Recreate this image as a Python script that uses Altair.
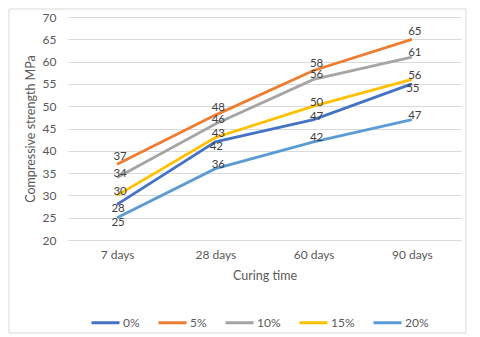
import altair as alt
import pandas as pd

categories = ["7 days", "28 days", "60 days", "90 days"]
series = ["0%", "5%", "10%", "15%", "20%"]
values = {
    "0%": [28, 42, 47, 55],
    "5%": [37, 48, 58, 65],
    "10%": [34, 46, 56, 61],
    "15%": [30, 43, 50, 56],
    "20%": [25, 36, 42, 47],
}
colors = ["#4472C4", "#ED7D31", "#A5A5A5", "#FFC000", "#5B9BD5"]
# data labels that sit below their point in the reference
labels_below = [("0%", "7 days"), ("0%", "28 days"), ("0%", "90 days"), ("20%", "7 days")]

rows = []
for si, s in enumerate(series):
    for c, v in zip(categories, values[s]):
        rows.append({"time": c, "mix": s, "strength": v, "order": si,
                     "below": (s, c) in labels_below})
df = pd.DataFrame(rows)

FONT = "Lato"
GRAY = "#595959"
label_dy = {"0%": -3, "5%": -7, "10%": -4, "15%": -3, "20%": -4}

x = alt.X("time:N", sort=categories, title="Curing time",
          scale=alt.Scale(type="point", padding=0.5),
          axis=alt.Axis(labelAngle=0, labelPadding=9, titlePadding=9, ticks=False,
                        domain=False, grid=False, labelFontSize=12, titleFontSize=12.5,
                        labelColor=GRAY, titleColor=GRAY, titleFontWeight="normal"))
y = alt.Y("strength:Q", title="Compressive strength MPa",
          scale=alt.Scale(domain=[20, 70], nice=False, zero=False),
          axis=alt.Axis(values=list(range(20, 71, 5)), ticks=False, domain=False,
                        labelPadding=12, titlePadding=5, labelFontSize=12, titleFontSize=12.5,
                        labelColor=GRAY, titleColor=GRAY, titleFontWeight="normal",
                        gridColor="#d9d9d9", gridWidth=1))
color = alt.Color("mix:N", sort=series, scale=alt.Scale(domain=series, range=colors),
                  legend=alt.Legend(title=None, orient="none", legendX=22, legendY=290,
                                    direction="horizontal", symbolType="stroke",
                                    symbolSize=784, symbolStrokeWidth=3, labelOffset=2,
                                    columnPadding=12, labelFontSize=12, labelColor=GRAY,
                                    labelFont=FONT))

lines = alt.Chart(df).mark_line(strokeWidth=2.8).encode(x=x, y=y, color=color,
                                                          detail="order:O")
layers = [lines]
for s in series:
    layers.append(alt.Chart(df).transform_filter(
        f"datum.mix == '{s}' && !datum.below").mark_text(
        fontSize=11.5, color="#404040", dx=3, dy=label_dy[s], font=FONT
    ).encode(x=x, y=y, text="strength:Q"))
layers.append(alt.Chart(df).transform_filter("datum.below").mark_text(
    fontSize=11.5, color="#404040", dx=1, dy=5, font=FONT
).encode(x=x, y=y, text="strength:Q"))
frame = alt.Chart(alt.Data(values=[{"a": 1}])).mark_rect(
    fillOpacity=0, stroke="#d9d9d9", strokeWidth=1
).encode(x=alt.value(-59), x2=alt.value(398), y=alt.value(-8), y2=alt.value(316))
layers.append(frame)

chart = alt.layer(*layers).properties(
    width=393, height=223,
    autosize=alt.AutoSizeParams(type="none"),
    padding={"left": 60, "top": 9, "right": 10, "bottom": 95},
).configure(font=FONT).configure_view(stroke=None)

chart.save("out.html", embed_options={"renderer": "svg", "actions": False})
